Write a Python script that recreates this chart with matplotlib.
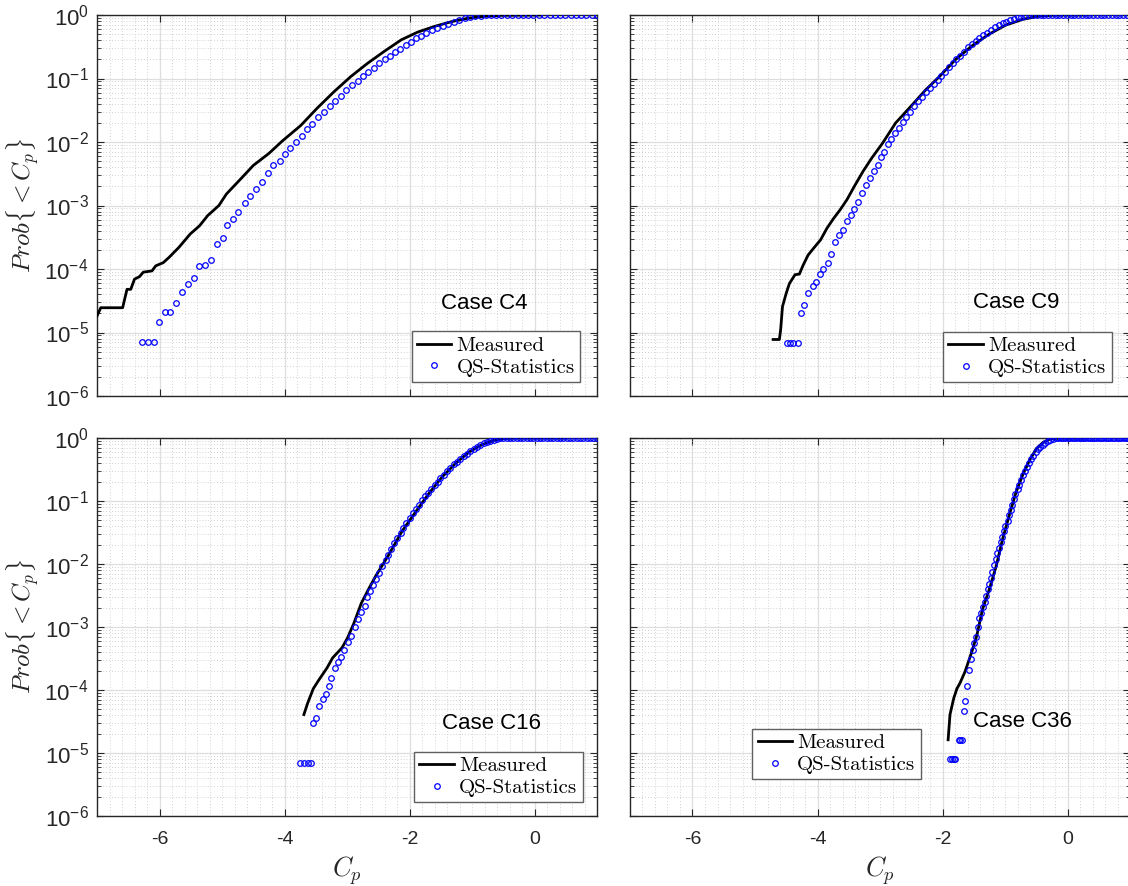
import numpy as np
import matplotlib
matplotlib.use('Agg')
import matplotlib.pyplot as plt
from matplotlib.ticker import MultipleLocator, FixedLocator, NullFormatter

plt.rcParams['font.family'] = ['Liberation Sans', 'DejaVu Sans']
plt.rcParams['mathtext.fontset'] = 'cm'
plt.rcParams['axes.unicode_minus'] = False

# ---- data (x = Cp, y = log10 of probability) ----
cases = ['Case C4', 'Case C9', 'Case C16', 'Case C36']

c4_meas_x = [-7.00, -6.94, -6.59, -6.52, -6.46, -6.40, -6.32, -6.26, -6.12, -6.06, -5.94, -5.85,
             -5.69, -5.51, -5.36, -5.23, -5.05, -4.93, -4.68, -4.50, -4.25, -4.03, -3.74, -3.48,
             -3.21, -2.94, -2.67, -2.40, -2.13, -1.87, -1.60, -1.33, -1.06, -0.79, -0.53, 0.10]
c4_meas_y = [-4.74, -4.61, -4.61, -4.32, -4.32, -4.16, -4.12, -4.05, -4.03, -3.95, -3.90, -3.82,
             -3.66, -3.45, -3.32, -3.16, -3.00, -2.82, -2.56, -2.37, -2.18, -1.98, -1.74, -1.47,
             -1.21, -0.97, -0.76, -0.57, -0.39, -0.27, -0.18, -0.105, -0.05, -0.02, -0.005, 0.0]
c4_qs_x = [-6.28, -6.18, -6.09, -6.01, -5.92, -5.83, -5.74, -5.64, -5.54, -5.45, -5.37, -5.27,
           -5.18, -5.08, -4.99, -4.92, -4.82, -4.74, -4.64, -4.55, -4.46, -4.36, -4.27, -4.18,
           -4.08, -3.99, -3.91, -3.82, -3.72, -3.64, -3.56, -3.46, -3.37, -3.28, -3.19, -3.10,
           -3.01, -2.92, -2.83, -2.75, -2.66, -2.57, -2.49, -2.40, -2.31, -2.23, -2.15, -2.06,
           -1.98, -1.89, -1.81, -1.73, -1.64, -1.56, -1.46, -1.38, -1.29, -1.21, -1.12, -1.04,
           -0.95, -0.86, -0.78, -0.70, -0.61, -0.53, -0.44, -0.36, -0.27, -0.19, -0.10, -0.02,
           0.07, 0.15, 0.24, 0.32, 0.41, 0.49, 0.58, 0.66, 0.75, 0.83, 0.92, 1.00]
c4_qs_y = [-5.15, -5.15, -5.15, -4.84, -4.68, -4.68, -4.54, -4.36, -4.23, -4.14, -3.96, -3.93,
           -3.86, -3.60, -3.51, -3.31, -3.22, -3.10, -2.96, -2.85, -2.74, -2.63, -2.49, -2.37,
           -2.30, -2.19, -2.10, -2.00, -1.91, -1.80, -1.71, -1.60, -1.52, -1.43, -1.35, -1.27,
           -1.18, -1.11, -1.04, -0.96, -0.90, -0.83, -0.76, -0.70, -0.64, -0.58, -0.53, -0.47,
           -0.42, -0.37, -0.33, -0.28, -0.24, -0.20, -0.17, -0.14, -0.105, -0.074, -0.053, -0.037,
           -0.021, -0.011, -0.005, 0.0, 0.0, 0.0, 0.0, 0.0, 0.0, 0.0, 0.0, 0.0,
           0.0, 0.0, 0.0, 0.0, 0.0, 0.0, 0.0, 0.0, 0.0, 0.0, 0.0, 0.0]

c9_meas_x = [-4.71, -4.61, -4.59, -4.56, -4.50, -4.45, -4.36, -4.29, -4.23, -4.15, -4.06, -3.95,
             -3.85, -3.74, -3.64, -3.53, -3.40, -3.27, -3.13, -2.96, -2.75, -2.48, -2.27, -2.05,
             -1.79, -1.52, -1.25, -0.99, -0.72, -0.45, -0.19, 0.30]
c9_meas_y = [-5.11, -5.11, -4.96, -4.59, -4.38, -4.23, -4.09, -4.08, -3.94, -3.78, -3.67, -3.54,
             -3.36, -3.20, -3.07, -2.91, -2.68, -2.46, -2.25, -2.02, -1.70, -1.41, -1.18, -0.97,
             -0.70, -0.48, -0.30, -0.16, -0.07, -0.016, 0.0, 0.0]
c9_qs_x = [-4.49, -4.44, -4.39, -4.32, -4.26, -4.21, -4.15, -4.08, -4.02, -3.96, -3.91, -3.84,
           -3.78, -3.72, -3.66, -3.59, -3.53, -3.47, -3.41, -3.35, -3.29, -3.22, -3.16, -3.10,
           -3.04, -2.98, -2.93, -2.88, -2.82, -2.76, -2.69, -2.64, -2.58, -2.52, -2.45, -2.39,
           -2.33, -2.27, -2.20, -2.14, -2.08, -2.03, -1.96, -1.90, -1.84, -1.78, -1.72, -1.65,
           -1.60, -1.53, -1.47, -1.41, -1.35, -1.29, -1.23, -1.16, -1.10, -1.04, -0.99, -0.92,
           -0.86, -0.80, -0.74, -0.68, -0.61, -0.55, -0.49, -0.43, -0.37, -0.31, -0.25, -0.19,
           -0.13, -0.07, -0.01, 0.05, 0.11, 0.17, 0.23, 0.29, 0.35, 0.41, 0.47, 0.53,
           0.59, 0.65, 0.71, 0.77, 0.83, 0.89, 0.95]
c9_qs_y = [-5.16, -5.16, -5.16, -5.16, -4.69, -4.56, -4.38, -4.26, -4.21, -4.08, -4.00, -3.91,
           -3.76, -3.58, -3.47, -3.38, -3.25, -3.15, -3.05, -2.95, -2.81, -2.67, -2.57, -2.46,
           -2.36, -2.24, -2.15, -2.03, -1.95, -1.86, -1.78, -1.69, -1.61, -1.52, -1.44, -1.36,
           -1.29, -1.22, -1.15, -1.08, -1.02, -0.96, -0.89, -0.82, -0.76, -0.70, -0.64, -0.58,
           -0.51, -0.455, -0.41, -0.36, -0.31, -0.28, -0.236, -0.19, -0.16, -0.13, -0.105, -0.08,
           -0.058, -0.037, -0.026, -0.016, -0.005, 0.0, 0.0, 0.0, 0.0, 0.0, 0.0, 0.0,
           0.0, 0.0, 0.0, 0.0, 0.0, 0.0, 0.0, 0.0, 0.0, 0.0, 0.0, 0.0,
           0.0, 0.0, 0.0, 0.0, 0.0, 0.0, 0.0]

c16_meas_x = [-3.69, -3.63, -3.54, -3.45, -3.32, -3.23, -3.08, -2.99, -2.89, -2.77, -2.65, -2.54,
              -2.33, -2.12, -1.90, -1.69, -1.48, -1.27, -1.05, -0.84, -0.63, -0.52, -0.31, 0.50]
c16_meas_y = [-4.39, -4.21, -3.98, -3.84, -3.65, -3.49, -3.33, -3.17, -2.94, -2.62, -2.39, -2.19,
              -1.85, -1.48, -1.17, -0.88, -0.62, -0.41, -0.225, -0.105, -0.031, -0.01, 0.0, 0.0]
c16_qs_x = [-3.75, -3.69, -3.63, -3.58, -3.55, -3.50, -3.45, -3.39, -3.34, -3.29, -3.25, -3.20,
            -3.14, -3.10, -3.05, -2.99, -2.94, -2.88, -2.82, -2.77, -2.72, -2.68, -2.63, -2.58,
            -2.53, -2.49, -2.44, -2.38, -2.34, -2.29, -2.25, -2.20, -2.14, -2.10, -2.05, -2.00,
            -1.95, -1.90, -1.85, -1.80, -1.75, -1.70, -1.65, -1.60, -1.55, -1.51, -1.45, -1.40,
            -1.35, -1.29, -1.24, -1.19, -1.13, -1.08, -1.03, -0.97, -0.92, -0.87, -0.81, -0.76,
            -0.71, -0.65, -0.60, -0.55, -0.50, -0.44, -0.39, -0.34, -0.28, -0.23, -0.18, -0.12,
            -0.07, -0.02, 0.04, 0.09, 0.14, 0.20, 0.25, 0.30, 0.36, 0.41, 0.46, 0.52,
            0.57, 0.62, 0.68, 0.73, 0.78, 0.84, 0.89, 0.94, 1.00]
c16_qs_y = [-5.16, -5.16, -5.16, -5.16, -4.53, -4.44, -4.25, -4.15, -4.06, -3.93, -3.81, -3.65,
            -3.56, -3.48, -3.36, -3.24, -3.15, -3.00, -2.88, -2.76, -2.66, -2.53, -2.43, -2.34,
            -2.24, -2.15, -2.03, -1.94, -1.85, -1.76, -1.66, -1.59, -1.51, -1.43, -1.35, -1.27,
            -1.19, -1.13, -1.06, -0.99, -0.92, -0.87, -0.81, -0.75, -0.70, -0.63, -0.58, -0.52,
            -0.47, -0.42, -0.38, -0.33, -0.29, -0.25, -0.21, -0.17, -0.136, -0.11, -0.084, -0.058,
            -0.042, -0.026, -0.016, -0.005, 0.0, 0.0, 0.0, 0.0, 0.0, 0.0, 0.0, 0.0,
            0.0, 0.0, 0.0, 0.0, 0.0, 0.0, 0.0, 0.0, 0.0, 0.0, 0.0, 0.0,
            0.0, 0.0, 0.0, 0.0, 0.0, 0.0, 0.0, 0.0, 0.0]

c36_meas_x = [-1.91, -1.88, -1.82, -1.77, -1.72, -1.64, -1.53, -1.45, -1.36, -1.25, -1.14, -1.04,
              -0.93, -0.82, -0.71, -0.61, -0.50, -0.39, -0.28, -0.12, 0.30]
c36_meas_y = [-4.79, -4.39, -4.13, -3.98, -3.89, -3.71, -3.39, -3.13, -2.72, -2.40, -2.03, -1.61,
              -1.22, -0.85, -0.57, -0.36, -0.17, -0.07, -0.016, 0.0, 0.0]
c36_qs_x = [-1.88, -1.85, -1.82, -1.80, -1.74, -1.72, -1.69, -1.66, -1.64, -1.61, -1.58, -1.55,
            -1.52, -1.49, -1.47, -1.44, -1.41, -1.39, -1.35, -1.32, -1.30, -1.27, -1.25, -1.23,
            -1.21, -1.18, -1.15, -1.13, -1.10, -1.07, -1.05, -1.02, -1.00, -0.96, -0.94, -0.91,
            -0.89, -0.86, -0.84, -0.80, -0.77, -0.74, -0.71, -0.68, -0.65, -0.61, -0.58, -0.55,
            -0.51, -0.48, -0.44, -0.40, -0.36, -0.32, -0.28, -0.24, -0.19, -0.15, -0.11, -0.08,
            -0.04, 0.00, 0.03, 0.07, 0.10, 0.14, 0.18, 0.21, 0.25, 0.28, 0.32, 0.36,
            0.39, 0.43, 0.46, 0.50, 0.54, 0.57, 0.61, 0.64, 0.68, 0.72, 0.75, 0.79,
            0.82, 0.86, 0.90, 0.93, 0.97, 1.00]
c36_qs_y = [-5.09, -5.09, -5.09, -5.09, -4.80, -4.80, -4.80, -4.33, -4.18, -3.94, -3.68, -3.51,
            -3.37, -3.26, -3.16, -3.00, -2.86, -2.78, -2.68, -2.61, -2.50, -2.39, -2.31, -2.22,
            -2.13, -2.01, -1.92, -1.83, -1.74, -1.65, -1.57, -1.48, -1.40, -1.32, -1.22, -1.15,
            -1.06, -0.97, -0.89, -0.81, -0.74, -0.66, -0.59, -0.52, -0.46, -0.40, -0.33, -0.28,
            -0.22, -0.18, -0.146, -0.11, -0.078, -0.052, -0.031, -0.016, -0.005, 0.0, 0.0, 0.0,
            0.0, 0.0, 0.0, 0.0, 0.0, 0.0, 0.0, 0.0, 0.0, 0.0, 0.0, 0.0,
            0.0, 0.0, 0.0, 0.0, 0.0, 0.0, 0.0, 0.0, 0.0, 0.0, 0.0, 0.0,
            0.0, 0.0, 0.0, 0.0, 0.0, 0.0]

panels = [
    (c4_meas_x, c4_meas_y, c4_qs_x, c4_qs_y),
    (c9_meas_x, c9_meas_y, c9_qs_x, c9_qs_y),
    (c16_meas_x, c16_meas_y, c16_qs_x, c16_qs_y),
    (c36_meas_x, c36_meas_y, c36_qs_x, c36_qs_y),
]

y_major = [1e-6, 1e-5, 1e-4, 1e-3, 1e-2, 1e-1, 1e0]
y_minor = [m * d for d in y_major[:-1] for m in range(2, 10)]

# layout in pixels: left, top, width, height
W, H = 1128.0, 886.0
boxes = [(97, 15, 500, 381), (630, 15, 500, 381), (97, 438, 500, 378), (630, 438, 500, 378)]
case_pos = [(0.774, 0.244), (0.772, 0.245), (0.79, 0.245), (0.784, 0.25)]
leg_pos = [('lower right', (0.966, 0.037)), ('lower right', (0.963, 0.036)),
           ('lower right', (0.971, 0.036)), ('lower left', (0.245, 0.097))]

fig = plt.figure(figsize=(11.28, 8.86), dpi=100)
ink = '#262626'

for i, (mx, my, qx, qy) in enumerate(panels):
    l, t, w, h = boxes[i]
    ax = fig.add_axes([l / W, 1 - (t + h) / H, w / W, h / H])
    ax.plot(mx, 10.0 ** np.array(my), color='k', lw=2.0, label='Measured', zorder=3)
    ax.plot(qx, 10.0 ** np.array(qy), 'o', ms=4.0, mfc='none', mec='#0000ff', mew=0.9,
            label='QS-Statistics', zorder=4)
    ax.set_yscale('log')
    ax.set_xlim(-7, 1)
    ax.set_ylim(1e-6, 1)
    ax.xaxis.set_major_locator(MultipleLocator(2))
    ax.xaxis.set_minor_locator(MultipleLocator(0.2))
    ax.yaxis.set_major_locator(FixedLocator(y_major))
    ax.yaxis.set_minor_locator(FixedLocator(y_minor))
    ax.yaxis.set_minor_formatter(NullFormatter())
    ax.grid(which='major', color='#dedede', lw=0.9, ls='-')
    ax.grid(which='minor', color='#c4c4c4', lw=0.6, ls=(0, (1, 2.5)))
    ax.set_axisbelow(True)
    ax.tick_params(which='both', direction='in', top=True, right=True, colors=ink)
    ax.tick_params(which='major', length=5, width=0.8)
    ax.tick_params(axis='y', which='minor', length=3, width=0.6)
    ax.tick_params(axis='x', which='minor', length=0)
    ax.tick_params(axis='x', pad=11, labelsize=14)
    ax.tick_params(axis='y', pad=6, labelsize=16)
    for s in ax.spines.values():
        s.set_color(ink)
        s.set_linewidth(1.0)
    if i in (1, 3):
        ax.tick_params(axis='y', labelleft=False)
    else:
        ax.set_ylabel(r'$Prob\{<C_p\}$', fontsize=18, color=ink, labelpad=2)
    if i < 2:
        # upper row: x tick labels are hidden behind the lower row in the reference
        ax.tick_params(axis='x', labelbottom=False)
    else:
        ax.set_xlabel(r'$C_p$', fontsize=19, color=ink, labelpad=4)
    ax.text(case_pos[i][0], case_pos[i][1], cases[i], transform=ax.transAxes,
            ha='center', va='center', fontsize=16, color='k')
    loc, anchor = leg_pos[i]
    leg = ax.legend(loc=loc, bbox_to_anchor=anchor, borderaxespad=0,
                    prop={'family': 'cmr10', 'size': 15}, fancybox=False, framealpha=1,
                    edgecolor='#606060', handlelength=1.65, handletextpad=0.25,
                    borderpad=0.25, labelspacing=0.15)
    leg.get_frame().set_linewidth(1.0)

fig.savefig('out.png', dpi=100, facecolor='white')
